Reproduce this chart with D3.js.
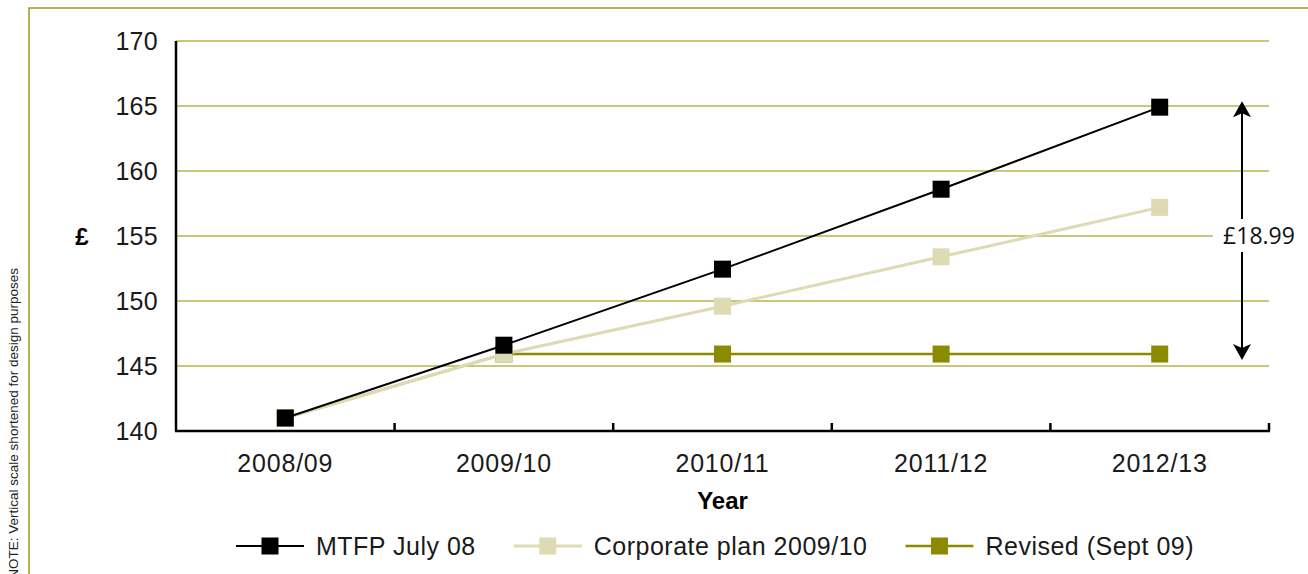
<!DOCTYPE html>
<html>
<head>
<meta charset="utf-8">
<script src="https://cdn.jsdelivr.net/npm/d3@7"></script>
<style>
  body { margin: 0; background: #fff; }
  svg { display: block; font-family: "Liberation Sans", Arial, sans-serif; }
</style>
</head>
<body>
<div id="chart"></div>
<script>
const years = ['2008/09', '2009/10', '2010/11', '2011/12', '2012/13'];
const mtfp = [141.0, 146.6, 152.45, 158.6, 164.91];
const corporate = [141.0, 145.92, 149.6, 153.4, 157.2];
const revised = [141.0, 145.92, 145.92, 145.92, 145.92];
const yTicks = [140, 145, 150, 155, 160, 165, 170];
const seriesNames = ['MTFP July 08', 'Corporate plan 2009/10', 'Revised (Sept 09)'];
const gapLabel = '£18.99';

const W = 1308, H = 574;
const margin = { top: 41, right: 39, bottom: 143, left: 176 };
const frameColor = '#9e9b1f';
const gridColor = '#b7b44c';
const colors = ['#000000', '#dedbb4', '#8c8a00'];

const svg = d3.select('#chart').append('svg')
  .attr('width', W)
  .attr('height', H);

// outer frame (top + left only)
svg.append('path')
  .attr('d', `M29,${H} L29,8 L${W},8`)
  .attr('fill', 'none')
  .attr('stroke', frameColor)
  .attr('stroke-width', 1.5);

// side note, runs off the bottom like the original
svg.append('text')
  .attr('transform', 'translate(18,268) rotate(-90)')
  .attr('text-anchor', 'end')
  .style('font-size', '13.5px')
  .style('fill', '#222')
  .text('NOTE: Vertical scale shortened for design purposes');

const x = d3.scaleBand()
  .domain(years)
  .range([margin.left, W - margin.right])
  .paddingInner(0)
  .paddingOuter(0);

const y = d3.scaleLinear()
  .domain([140, 170])
  .range([H - margin.bottom, margin.top]);

const cx = d => x(d) + x.bandwidth() / 2;

// gridlines
svg.append('g')
  .selectAll('line')
  .data(yTicks.filter(t => t > 140))
  .enter().append('line')
  .attr('x1', margin.left)
  .attr('x2', W - margin.right)
  .attr('y1', d => y(d))
  .attr('y2', d => y(d))
  .attr('stroke', gridColor)
  .attr('stroke-width', 1.5);

// y tick labels
svg.append('g')
  .selectAll('text')
  .data(yTicks)
  .enter().append('text')
  .attr('x', margin.left - 18)
  .attr('y', d => y(d))
  .attr('dy', '0.36em')
  .attr('text-anchor', 'end')
  .style('font-size', '25px')
  .style('letter-spacing', '0.3px')
  .style('fill', '#1a1a1a')
  .text(d => d);

svg.append('text')
  .attr('x', 82)
  .attr('y', y(155))
  .attr('dy', '0.36em')
  .attr('text-anchor', 'middle')
  .style('font-size', '24px')
  .style('font-weight', 'bold')
  .text('£');

// axes
svg.append('line')
  .attr('x1', margin.left).attr('x2', margin.left)
  .attr('y1', y(170)).attr('y2', y(140))
  .attr('stroke', '#000').attr('stroke-width', 2.5);

svg.append('line')
  .attr('x1', margin.left - 1).attr('x2', W - margin.right + 1)
  .attr('y1', y(140)).attr('y2', y(140))
  .attr('stroke', '#000').attr('stroke-width', 2.5);

// x tick marks at band edges, pointing up
svg.append('g')
  .selectAll('line')
  .data(years)
  .enter().append('line')
  .attr('x1', d => x(d) + x.bandwidth())
  .attr('x2', d => x(d) + x.bandwidth())
  .attr('y1', y(140))
  .attr('y2', y(140) - 8)
  .attr('stroke', '#000')
  .attr('stroke-width', 2.5);

// x labels
svg.append('g')
  .selectAll('text')
  .data(years)
  .enter().append('text')
  .attr('x', d => cx(d))
  .attr('y', 472)
  .attr('text-anchor', 'middle')
  .style('font-size', '25px')
  .style('letter-spacing', '0.8px')
  .style('fill', '#1a1a1a')
  .text(d => d);

svg.append('text')
  .attr('x', (margin.left + W - margin.right) / 2)
  .attr('y', 509)
  .attr('text-anchor', 'middle')
  .style('font-size', '24px')
  .style('font-weight', 'bold')
  .text('Year');

// series (draw revised first, MTFP on top)
const series = [
  { name: seriesNames[2], values: revised, color: colors[2], width: 2.5 },
  { name: seriesNames[1], values: corporate, color: colors[1], width: 3 },
  { name: seriesNames[0], values: mtfp, color: colors[0], width: 2 }
];

const line = d3.line()
  .x((d, i) => cx(years[i]))
  .y(d => y(d));

const msize = 17;

series.forEach(s => {
  const g = svg.append('g');
  g.append('path')
    .datum(s.values)
    .attr('d', line)
    .attr('fill', 'none')
    .attr('stroke', s.color)
    .attr('stroke-width', s.width);
  g.selectAll('rect')
    .data(s.values)
    .enter().append('rect')
    .attr('x', (d, i) => cx(years[i]) - msize / 2)
    .attr('y', d => y(d) - msize / 2)
    .attr('width', msize)
    .attr('height', msize)
    .attr('fill', s.color);
});

// difference arrow
const ax = 1242;
const yTop = y(mtfp[4]) - 6;
const yBot = y(revised[4]) + 6;
const ann = svg.append('g');
ann.append('line')
  .attr('x1', ax).attr('x2', ax)
  .attr('y1', yTop + 10).attr('y2', yBot - 10)
  .attr('stroke', '#000').attr('stroke-width', 2);
ann.append('path')
  .attr('d', `M${ax},${yTop} L${ax + 9},${yTop + 16} L${ax},${yTop + 12} L${ax - 9},${yTop + 16} Z`)
  .attr('fill', '#000');
ann.append('path')
  .attr('d', `M${ax},${yBot} L${ax + 9},${yBot - 16} L${ax},${yBot - 12} L${ax - 9},${yBot - 16} Z`)
  .attr('fill', '#000');
ann.append('rect')
  .attr('x', 1213).attr('y', 219)
  .attr('width', 90).attr('height', 33)
  .attr('fill', '#fff');
ann.append('text')
  .attr('x', ax + 17)
  .attr('y', 244)
  .attr('text-anchor', 'middle')
  .style('font-family', '"Open Sans", sans-serif')
  .style('font-size', '23px')
  .style('fill', '#111')
  .text(gapLabel);

// legend
const legendItems = [
  { name: seriesNames[0], color: colors[0], width: 2 },
  { name: seriesNames[1], color: colors[1], width: 3 },
  { name: seriesNames[2], color: colors[2], width: 2.5 }
];
const ly = 546;
let lx = 236;
legendItems.forEach(it => {
  const g = svg.append('g').attr('transform', `translate(${lx},${ly})`);
  g.append('line')
    .attr('x1', 0).attr('x2', 68)
    .attr('stroke', it.color).attr('stroke-width', it.width);
  g.append('rect')
    .attr('x', 34 - msize / 2).attr('y', -msize / 2)
    .attr('width', msize).attr('height', msize)
    .attr('fill', it.color);
  const t = g.append('text')
    .attr('x', 80)
    .attr('dy', '0.36em')
    .style('font-size', '25px')
    .style('letter-spacing', '0.5px')
    .style('fill', '#1a1a1a')
    .text(it.name);
  lx += 80 + t.node().getComputedTextLength() + 38;
});
</script>
</body>
</html>
